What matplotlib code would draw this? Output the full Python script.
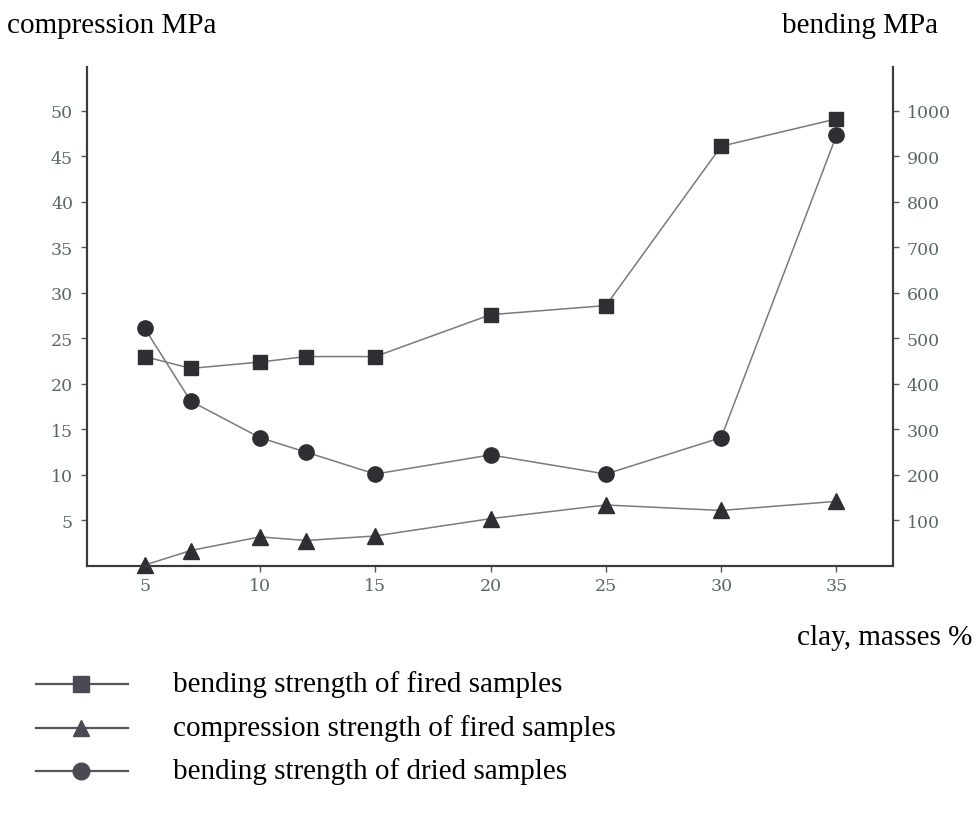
import matplotlib
matplotlib.use("Agg")
import matplotlib.pyplot as plt
from matplotlib.lines import Line2D

# clay content, masses %
clay = [5, 7, 10, 12, 15, 20, 25, 30, 35]

# values read on the left (compression) scale
bending_fired = [23.0, 21.7, 22.4, 23.0, 23.0, 27.6, 28.6, 46.1, 49.1]
compression_fired = [0.1, 1.7, 3.2, 2.8, 3.3, 5.2, 6.7, 6.1, 7.1]
bending_dried = [26.1, 18.1, 14.1, 12.5, 10.1, 12.2, 10.1, 14.1, 47.3]

left_ticks = [5, 10, 15, 20, 25, 30, 35, 40, 45, 50]
right_ticks = [100, 200, 300, 400, 500, 600, 700, 800, 900, 1000]
x_ticks = [5, 10, 15, 20, 25, 30, 35]

legend_labels = ["bending strength of fired samples",
                 "compression strength of fired samples",
                 "bending strength of dried samples"]

serif = "Liberation Serif"
tick_font = "DejaVu Serif"
tick_color = "#5a6866"
line_color = "#7a7a7a"
mark_color = "#2e2e33"

fig = plt.figure(figsize=(9.76, 8.29), dpi=100)
ax = fig.add_axes([87 / 976, 1 - 567 / 829, (893 - 87) / 976, (567 - 68) / 829])

styles = [("s", 10.5), ("^", 11), ("o", 11)]
for vals, (mk, ms) in zip([bending_fired, compression_fired, bending_dried], styles):
    ax.plot(clay, vals, color=line_color, lw=1.1, marker=mk, ms=ms,
            markerfacecolor=mark_color, markeredgecolor=mark_color, clip_on=False)

ax.set_xlim(2.5, 37.45)
ax.set_ylim(0, 54.8)
ax.set_xticks(x_ticks)
ax.set_yticks(left_ticks)

ax2 = ax.twinx()
ax2.set_ylim(0, 54.8 * 20)
ax2.set_yticks(right_ticks)

for a in (ax, ax2):
    for s in a.spines.values():
        s.set_color("#3a3a40")
        s.set_linewidth(1.5)
    a.spines["top"].set_visible(False)
    a.tick_params(length=4, width=1, color="#555555", labelcolor=tick_color,
                  labelsize=12.5)
    for lab in a.get_xticklabels() + a.get_yticklabels():
        lab.set_family(tick_font)
ax.tick_params(axis="y", pad=6)
ax2.tick_params(axis="y", pad=6)
ax.tick_params(axis="x", pad=4)

fig.text(7 / 976, 1 - 26 / 829, "compression MPa", family=serif, fontsize=21,
         ha="left", va="center")
fig.text(938 / 976, 1 - 26 / 829, "bending MPa", family=serif, fontsize=21,
         ha="right", va="center")
fig.text(972 / 976, 1 - 638 / 829, "clay, masses %", family=serif, fontsize=21,
         ha="right", va="center")

# hand-placed legend below the chart
for i, (lab, (mk, ms)) in enumerate(zip(legend_labels, styles)):
    y = 1 - (685 + 43.5 * i) / 829
    fig.add_artist(Line2D([36 / 976, 128 / 976], [y, y], color="#555560", lw=1.6))
    fig.add_artist(Line2D([81 / 976], [y], marker=mk, ms=ms + 1, color=mark_color,
                          markerfacecolor="#4a4a55", markeredgecolor="#4a4a55"))
    fig.text(173 / 976, y, lab, family=serif, fontsize=21, ha="left", va="center")

fig.savefig("out.png", dpi=100)
